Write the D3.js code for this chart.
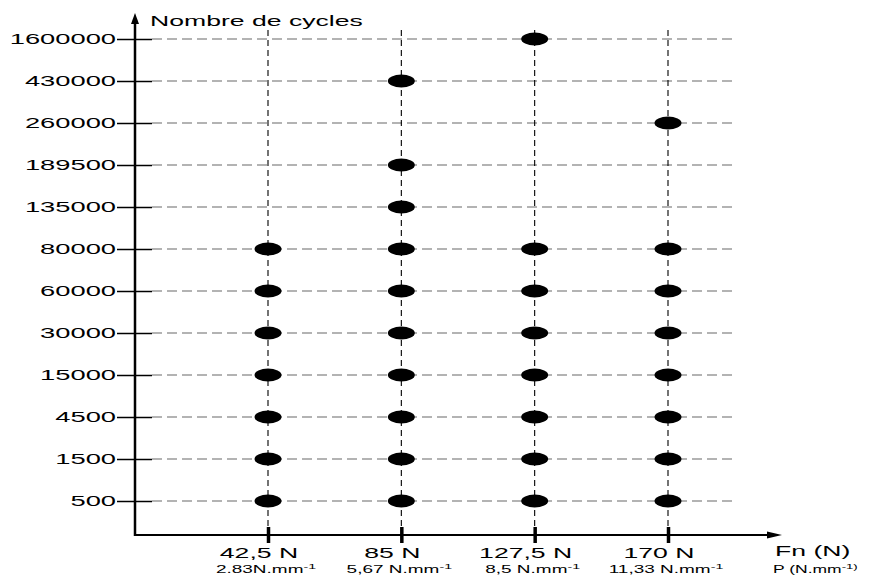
<!DOCTYPE html>
<html>
<head>
<meta charset="utf-8">
<script src="https://cdn.jsdelivr.net/npm/d3@7"></script>
<style>
  html, body { margin: 0; padding: 0; background: #fff; }
  svg { display: block; }
  text { font-family: "Liberation Sans", Arial, sans-serif; fill: #000; }
</style>
</head>
<body>
<svg id="chart" width="877" height="575"></svg>
<script>
// ---- data ----
const cycleLevels = ["500", "1500", "4500", "15000", "30000", "60000", "80000", "135000", "189500", "260000", "430000", "1600000"];
const forceLabels = ["42,5 N", "85 N", "127,5 N", "170 N"];
const pressureLabels = ["2.83N.mm", "5,67 N.mm", "8,5 N.mm", "11,33 N.mm"];
const cycles42_5 = ["500", "1500", "4500", "15000", "30000", "60000", "80000"];
const cycles85 = ["500", "1500", "4500", "15000", "30000", "60000", "80000", "135000", "189500", "430000"];
const cycles127_5 = ["500", "1500", "4500", "15000", "30000", "60000", "80000", "1600000"];
const cycles170 = ["500", "1500", "4500", "15000", "30000", "60000", "80000", "260000"];
const yTitle = "Nombre de cycles";
const xTitle = "Fn (N)";
const xTitle2 = "P (N.mm";

const series = [cycles42_5, cycles85, cycles127_5, cycles170];
const points = [];
series.forEach((arr, i) => arr.forEach(c => points.push({ f: forceLabels[i], c })));

// ---- layout ----
const svg = d3.select("#chart");
const axisX = 135, axisY = 535;
const x = d3.scalePoint().domain(forceLabels).range([268, 668]);
const y = d3.scalePoint().domain(cycleLevels).range([501, 39]);
const SX = 1.9; // horizontal stretch of the lettering

function stretchedText(px, py, anchor, size, str, sup, sx) {
  const g = svg.append("g").attr("transform", `translate(${px},${py}) scale(${sx || SX},1)`);
  const t = g.append("text").attr("text-anchor", anchor).attr("font-size", size).text(str);
  if (sup) {
    t.append("tspan").attr("font-size", size * 0.75).attr("dy", -size * 0.45).text(sup);
  }
  return t;
}

// horizontal gray dashed grid lines
svg.append("g").selectAll("line").data(cycleLevels).join("line")
  .attr("x1", axisX + 17).attr("x2", 737)
  .attr("y1", d => y(d)).attr("y2", d => y(d))
  .attr("stroke", "#9a9a9a").attr("stroke-width", 1.3)
  .attr("stroke-dasharray", "10,5");

// vertical black dashed lines
svg.append("g").selectAll("line").data(forceLabels).join("line")
  .attr("x1", d => x(d)).attr("x2", d => x(d))
  .attr("y1", 30).attr("y2", axisY)
  .attr("stroke", "#000").attr("stroke-width", 1.1)
  .attr("stroke-dasharray", "6,4");

// y axis with ticks
const yAxis = d3.axisLeft(y).tickSize(0).tickPadding(0).tickFormat(() => "");
const yg = svg.append("g").attr("transform", `translate(${axisX},0)`).call(yAxis);
yg.select(".domain").remove();
yg.selectAll(".tick").append("line")
  .attr("x1", -18).attr("x2", 17).attr("stroke", "#000").attr("stroke-width", 1.5);
cycleLevels.forEach(c => stretchedText(116, y(c) + 5, "end", 14, c, null, 1.95));

// x axis ticks
const xAxis = d3.axisBottom(x).tickSize(0).tickFormat(() => "");
const xg = svg.append("g").attr("transform", `translate(0,${axisY})`).call(xAxis);
xg.select(".domain").remove();
xg.selectAll(".tick").append("line")
  .attr("y1", -8).attr("y2", 8).attr("stroke", "#000").attr("stroke-width", 3.5);
forceLabels.forEach(f => stretchedText(x(f) - 9, 558, "middle", 14, f));
pressureLabels.forEach((p, i) => stretchedText(x(forceLabels[i]) - 2, 573, "middle", 10, p, "-1"));

// axis lines with arrows
svg.append("line").attr("x1", axisX).attr("x2", axisX).attr("y1", axisY + 1).attr("y2", 22)
  .attr("stroke", "#000").attr("stroke-width", 2.5);
svg.append("path").attr("d", `M${axisX - 4},24 L${axisX},13 L${axisX + 4},24 Z`).attr("fill", "#000");
svg.append("line").attr("x1", axisX - 1).attr("x2", 770).attr("y1", axisY).attr("y2", axisY)
  .attr("stroke", "#000").attr("stroke-width", 2);
svg.append("path").attr("d", `M767,${axisY - 3.5} L782,${axisY} L767,${axisY + 3.5} Z`).attr("fill", "#000");

// axis titles
stretchedText(150, 26, "start", 14, yTitle);
stretchedText(775, 556, "start", 14, xTitle);
stretchedText(773, 573, "start", 10, xTitle2, "-1)", 1.75);

// data points
svg.append("g").selectAll("ellipse").data(points).join("ellipse")
  .attr("cx", d => x(d.f)).attr("cy", d => y(d.c))
  .attr("rx", 13.5).attr("ry", 6.5).attr("fill", "#000");
</script>
</body>
</html>
